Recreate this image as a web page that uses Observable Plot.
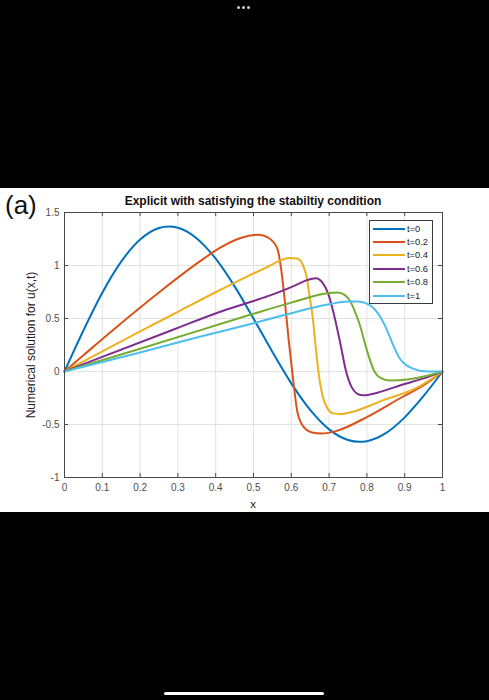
<!DOCTYPE html>
<html><head><meta charset="utf-8">
<script src="https://cdn.jsdelivr.net/npm/d3@7"></script>
<script src="https://cdn.jsdelivr.net/npm/@observablehq/plot@0.6"></script>
<style>
html,body{margin:0;padding:0;background:#000;}
body{width:489px;height:700px;position:relative;overflow:hidden;font-family:"Liberation Sans",Arial,sans-serif;}
#dots{position:absolute;top:6px;left:237px;display:flex;gap:2px;}
#dots span{width:3px;height:3px;border-radius:50%;background:#cfcfcf;display:block;}
#panel{position:absolute;top:188px;left:0;width:489px;height:324px;background:#fff;}
#panel svg{position:absolute;left:0;top:0;}
#tag{position:absolute;left:5px;top:2px;font-size:26px;color:#111;line-height:30px;}
#title{position:absolute;left:64px;width:378px;top:6px;text-align:center;font-weight:bold;font-size:12px;line-height:14px;color:#111;white-space:nowrap;}
#xlab{position:absolute;left:253px;top:316px;transform:translate(-50%,-50%);font-size:11.5px;color:#222;}
#legend{position:absolute;left:369px;top:32px;width:62px;height:81px;border:1px solid #3a3a3a;background:#fff;padding-top:1px;box-sizing:content-box;}
#legend .row{height:13.4px;display:flex;align-items:center;}
#legend .sw{width:32px;height:2px;margin-left:3px;margin-right:2px;}
#legend .lb{font-size:9.3px;color:#222;}
#home{position:absolute;left:164px;top:692px;width:160px;height:3px;border-radius:2px;background:#fff;}
</style>
</head><body>
<div id="dots"><span></span><span></span><span></span></div>
<div id="panel">
  <div id="tag">(a)</div>
  <div id="title">Explicit with satisfying the stabiltiy condition</div>
  <div id="xlab">x</div>
</div>
<div id="home"></div>
<script>
const seriesNames = ["t=0","t=0.2","t=0.4","t=0.6","t=0.8","t=1"];
const seriesColors = ["#0072BD","#D95319","#EDB120","#7E2F8E","#77AC30","#4DBEEE"];
const xTicks = [0,0.1,0.2,0.3,0.4,0.5,0.6,0.7,0.8,0.9,1];
const yTicks = [-1,-0.5,0,0.5,1,1.5];
const yLabel = "Numerical solution for u(x,t)";

const x_t0 = [0,0.05,0.1,0.15,0.2,0.25,0.275,0.3,0.35,0.4,0.45,0.5,0.55,0.6,0.65,0.7,0.75,0.78,0.8,0.85,0.9,0.95,1];
const y_t0 = [0,0.387,0.743,1.036,1.245,1.354,1.368,1.356,1.255,1.064,0.803,0.5,0.185,-0.112,-0.363,-0.546,-0.646,-0.663,-0.657,-0.582,-0.433,-0.231,0];

const x_t02 = [0,0.05,0.127,0.249,0.357,0.413,0.466,0.513,0.54,0.563,0.573,0.583,0.593,0.604,0.616,0.632,0.655,0.68,0.72,0.8,0.889,0.95,1];
const y_t02 = [0,0.153,0.387,0.743,1.036,1.17,1.26,1.29,1.26,1.16,0.97,0.66,0.3,-0.05,-0.38,-0.52,-0.575,-0.585,-0.56,-0.43,-0.25,-0.13,0];

const x_t04 = [0,0.05,0.205,0.3,0.397,0.484,0.533,0.564,0.594,0.615,0.63,0.64,0.648,0.657,0.664,0.671,0.682,0.696,0.712,0.735,0.757,0.844,0.934,1];
const y_t04 = [0,0.095,0.387,0.563,0.743,0.898,0.98,1.036,1.07,1.065,1.01,0.9,0.72,0.5,0.25,0.02,-0.22,-0.35,-0.395,-0.40,-0.385,-0.27,-0.15,0];

const x_t06 = [0,0.05,0.282,0.418,0.5,0.546,0.603,0.64,0.665,0.682,0.698,0.712,0.73,0.745,0.76,0.775,0.79,0.828,0.889,0.95,1];
const y_t06 = [0,0.069,0.387,0.571,0.665,0.72,0.8,0.86,0.88,0.84,0.73,0.55,0.26,0.0,-0.15,-0.21,-0.225,-0.20,-0.13,-0.065,0];

const x_t08 = [0,0.05,0.2,0.36,0.5,0.6,0.7,0.722,0.742,0.757,0.77,0.783,0.796,0.808,0.82,0.836,0.862,0.907,0.96,1];
const y_t08 = [0,0.054,0.215,0.39,0.545,0.65,0.74,0.745,0.72,0.655,0.55,0.42,0.25,0.11,0.0,-0.06,-0.085,-0.075,-0.04,0];

const x_t1 = [0,0.05,0.2,0.36,0.5,0.6,0.7,0.75,0.775,0.8,0.82,0.838,0.852,0.866,0.884,0.9,0.92,0.96,1];
const y_t1 = [0,0.045,0.18,0.33,0.455,0.55,0.635,0.66,0.66,0.64,0.59,0.5,0.4,0.28,0.14,0.07,0.03,0.0,0];

const xs = [x_t0,x_t02,x_t04,x_t06,x_t08,x_t1];
const ys = [y_t0,y_t02,y_t04,y_t06,y_t08,y_t1];
const rows = [];
seriesNames.forEach((s,i)=>xs[i].forEach((xv,j)=>rows.push({series:s,x:xv,y:ys[i][j]})));

const fw = 378, fh = 265; // frame size in px
const chart = Plot.plot({
  width:489, height:324,
  marginTop:24, marginBottom:35, marginLeft:64, marginRight:47,
  style:{background:"transparent", fontFamily:"'Liberation Sans', Arial, sans-serif", fontSize:"10px", color:"#4d4d4d"},
  x:{domain:[0,1]},
  y:{domain:[-1,1.5]},
  color:{domain:seriesNames, range:seriesColors},
  marks:[
    Plot.gridX(xTicks,{stroke:"#e2e2e2", strokeOpacity:1}),
    Plot.gridY(yTicks,{stroke:"#e2e2e2", strokeOpacity:1}),
    Plot.axisX(xTicks,{tickSize:0, tickPadding:6, tickFormat:d=>String(d), label:null, fill:"#4d4d4d"}),
    Plot.axisY(yTicks,{tickSize:0, tickPadding:5, tickFormat:d=>String(d), label:null, fill:"#4d4d4d"}),
    Plot.axisY({ticks:[], tickSize:0, label:yLabel, labelAnchor:"center", labelArrow:"none", labelOffset:38, fill:"#222", fontSize:"12px"}),
    Plot.tickX(xTicks,{x:d=>d, insetTop:fh-4, stroke:"#4a4a4a"}),
    Plot.tickX(xTicks,{x:d=>d, insetBottom:fh-4, stroke:"#4a4a4a"}),
    Plot.tickY(yTicks,{y:d=>d, insetRight:fw-4, stroke:"#4a4a4a"}),
    Plot.tickY(yTicks,{y:d=>d, insetLeft:fw-4, stroke:"#4a4a4a"}),
    Plot.line(rows,{x:"x", y:"y", z:"series", stroke:"series", strokeWidth:2, curve:"monotone-x"}),
    Plot.frame({stroke:"#4a4a4a"})
  ]
});
const panel = document.getElementById("panel");
panel.insertBefore(chart, panel.firstChild);

const legend = document.createElement("div");
legend.id = "legend";
seriesNames.forEach((s,i)=>{
  const r = document.createElement("div"); r.className="row";
  const sw = document.createElement("span"); sw.className="sw"; sw.style.background=seriesColors[i];
  const lb = document.createElement("span"); lb.className="lb"; lb.textContent=s;
  r.appendChild(sw); r.appendChild(lb); legend.appendChild(r);
});
panel.appendChild(legend);
</script>
</body></html>
